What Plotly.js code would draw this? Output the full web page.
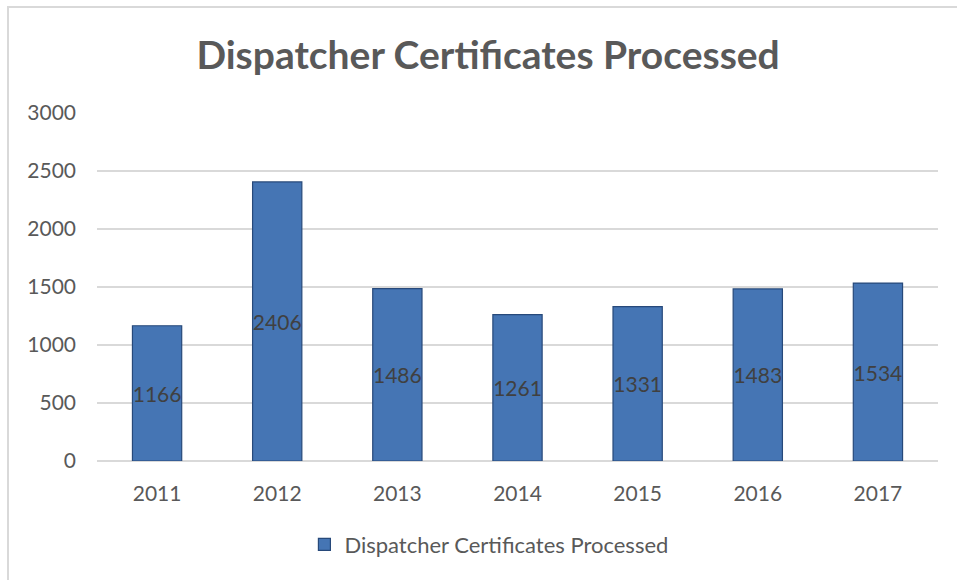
<!DOCTYPE html>
<html><head><meta charset="utf-8">
<script src="https://cdn.plot.ly/plotly-3.0.1.min.js"></script>
<style>
body{margin:0;padding:0;background:#fff;}
#wrap{position:relative;width:957px;height:580px;}
#chart{position:absolute;left:0;top:0;width:957px;height:580px;}
#frame{position:absolute;left:7px;top:6px;width:950px;height:574px;border-left:2px solid #d9d9d9;border-top:2px solid #d9d9d9;pointer-events:none;}
</style></head>
<body><div id="wrap"><div id="chart"></div><div id="frame"></div></div>
<script>
const years = ['2011','2012','2013','2014','2015','2016','2017'];
const certificates = [1166, 2406, 1486, 1261, 1331, 1483, 1534];
const seriesName = 'Dispatcher Certificates Processed';
const chartTitle = 'Dispatcher Certificates Processed';
const yTicks = [0, 500, 1000, 1500, 2000, 2500, 3000];

const fontFam = 'Lato, "Open Sans", sans-serif';
const trace = {
  type: 'bar',
  x: years,
  y: certificates,
  name: seriesName,
  text: certificates.map(String),
  textposition: 'inside',
  insidetextanchor: 'middle',
  textangle: 0,
  constraintext: 'none',
  textfont: {family: fontFam, size: 21, color: '#404040'},
  marker: {color: '#4575b4', line: {color: '#27497a', width: 1.2}},
  showlegend: true,
  hoverinfo: 'x+y'
};
const layout = {
  width: 957, height: 580,
  margin: {l: 97, r: 19, t: 113, b: 119, autoexpand: false},
  paper_bgcolor: '#fff', plot_bgcolor: '#fff',
  title: {text: chartTitle, x: 0.51, xanchor: 'center', xref: 'container', y: 0.905, yanchor: 'middle',
          font: {family: fontFam, size: 39, color: '#595959', weight: 'bold'}},
  bargap: 0.59,
  uniformtext: {mode: false},
  xaxis: {type: 'category', showgrid: false, zeroline: false, showline: false, automargin: false, tickangle: 0,
          ticks: '', ticklabelstandoff: 18, tickfont: {family: fontFam, size: 21, color: '#595959'}},
  yaxis: {range: [0, 3000], tickvals: yTicks, ticktext: yTicks.map(String), showgrid: true, automargin: false,
          gridcolor: '#d9d9d9', gridwidth: 1.5, zeroline: true, zerolinecolor: '#d9d9d9', zerolinewidth: 1.5,
          showline: false, ticks: '', ticklabelstandoff: 20,
          tickfont: {family: fontFam, size: 21, color: '#595959'}},
  showlegend: true,
  legend: {orientation: 'h', x: 0.466, xanchor: 'center', y: -0.18, yanchor: 'top',
           font: {family: fontFam, size: 22, color: '#595959'}}
};
Plotly.newPlot('chart', [trace], layout, {displayModeBar: false, staticPlot: true});
</script></body></html>
